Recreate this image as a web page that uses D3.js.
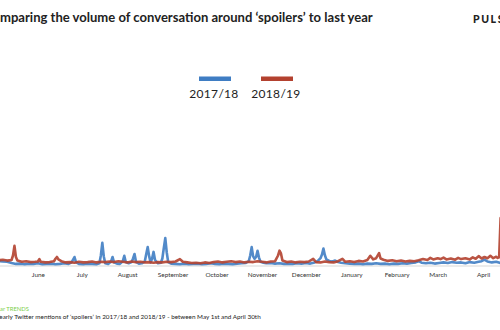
<!DOCTYPE html>
<html>
<head>
<meta charset="utf-8">
<script src="https://cdn.jsdelivr.net/npm/d3@7"></script>
<style>
  html, body { margin: 0; padding: 0; background: #fff; }
  svg { display: block; }
</style>
</head>
<body>
<svg id="chart" width="500" height="330"></svg>
<script>
// ---------- DATA ----------
const title = "Comparing the volume of conversation around ‘spoilers’ to last year";
const seriesNames = ["2017/18", "2018/19"];
const monthLabels = ["June","July","August","September","October","November","December","January","February","March","April"];
const footerBrand = "Pulsar TRENDS";
const footerNote = "Yearly Twitter mentions of ‘spoilers’ in 2017/18 and 2018/19 - between May 1st and April 30th";

// day index counted from May 1st (0 .. 364); values in thousands of mentions (est.)
const blueDays = [0,3,6,9,12,15,18,21,24,27,30,33,36,39,42,45,48,51,54,57,60,63,66,68,70,71,73,76,79,82,85,87,88,89,90,91,93,95,96,97,99,101,103,104,105,107,109,110,111,112,114,116,118,119,120,121,122,123,124,125,127,129,130,131,132,133,134,136,139,142,145,148,151,154,157,160,163,166,169,172,175,178,181,184,187,189,190,191,192,193,194,195,196,197,199,201,204,207,210,213,216,219,222,225,228,231,234,236,238,239,240,241,242,244,246,248,250,252,255,258,261,264,267,270,273,276,279,282,285,288,291,294,297,300,303,305,307,310,313,316,319,322,325,328,331,334,337,340,343,346,348,350,352,355,358,361,364];
const blueValues = [2.0,1.9,1.8,1.9,1.7,1.8,1.6,1.5,1.4,1.0,0.7,0.8,0.6,0.8,0.7,0.9,0.6,0.7,0.8,0.6,0.7,0.9,0.7,1.2,3.0,1.3,0.7,0.6,0.8,0.7,0.6,0.9,3.5,7.7,3.2,0.9,0.7,1.5,3.0,1.2,0.8,0.7,1.6,3.4,1.3,0.9,1.3,2.5,4.0,1.4,0.8,0.9,1.5,4.0,6.3,3.2,1.2,2.5,4.7,2.0,0.9,1.1,2.5,6.0,9.3,4.5,1.3,0.8,0.7,0.6,0.8,0.6,0.7,0.8,0.6,0.7,0.9,0.7,0.6,0.8,0.7,0.6,0.8,0.9,1.0,1.6,3.5,6.3,3.2,2.4,3.0,5.1,2.8,1.4,1.1,0.9,1.0,0.8,0.9,0.7,0.8,0.7,0.9,0.8,1.0,0.8,1.2,1.6,2.6,3.8,5.8,3.6,2.2,1.7,1.5,1.8,1.3,1.1,0.9,0.8,0.7,0.8,0.6,0.8,0.7,0.9,0.7,0.8,0.6,0.8,0.7,0.9,0.8,1.0,1.2,1.6,1.1,0.9,1.1,0.8,1.0,1.2,1.0,1.3,1.1,1.2,0.9,1.3,1.1,1.4,1.6,2.1,1.5,1.2,1.4,1.0,1.2];

const redDays = [0,3,6,9,12,15,18,21,24,27,28,29,30,31,34,37,40,43,45,46,47,50,53,56,57,58,59,61,64,67,70,73,76,79,82,85,88,91,94,97,100,103,106,109,112,115,118,121,124,127,130,133,136,139,142,144,147,150,153,156,159,162,165,168,171,174,177,180,183,186,189,192,195,198,201,204,207,209,210,211,212,215,218,221,224,227,230,233,235,238,241,244,247,250,253,255,258,261,264,267,270,272,274,276,278,279,281,284,287,290,293,296,299,302,305,308,311,313,315,318,320,322,324,327,330,332,334,337,340,342,344,346,348,350,352,354,356,358,359,360,361,362,364];
const redValues = [1.8,1.6,2.0,1.7,1.9,2.2,1.9,2.1,1.8,2.0,3.5,6.7,3.0,1.8,1.4,1.6,1.3,1.4,1.5,2.3,1.4,1.2,1.3,1.6,2.4,3.0,2.2,1.6,1.2,1.3,1.1,1.4,1.2,1.3,1.5,1.2,1.4,1.3,1.5,1.3,1.6,1.4,1.2,1.5,1.3,1.4,1.2,1.3,1.1,1.3,1.2,1.4,1.3,1.5,2.3,1.4,1.2,1.0,1.1,0.9,1.2,1.0,1.3,1.5,1.2,1.4,1.6,1.3,1.5,1.2,1.4,1.3,1.6,1.4,1.2,1.5,1.6,3.5,5.1,4.2,1.8,1.3,1.5,1.2,1.4,1.3,1.5,2.4,1.3,1.2,1.5,1.3,1.2,1.6,2.4,1.4,1.6,1.3,1.7,1.5,2.0,3.4,2.2,2.6,4.3,2.5,2.1,1.7,1.9,1.6,1.8,1.5,1.7,1.6,1.9,2.3,2.0,2.7,2.2,2.6,2.3,2.8,2.2,2.5,2.1,2.7,2.3,2.6,2.2,2.9,2.4,3.3,2.5,3.0,2.6,3.4,2.6,3.1,2.7,2.9,16,11,7];

// ---------- LAYOUT ----------
const svg = d3.select("#chart");
const colors = ["#3f7dc3", "#b3412f"];
const font = "Lato, 'Open Sans', sans-serif";

const x = d3.scaleLinear().domain([0, 364]).range([-28, 505]);
const y = d3.scaleLinear().domain([0, 50]).range([266, 116]);

function measure(txt, size, weight) {
  const probe = svg.append("text").attr("font-family", font).attr("font-weight", weight).attr("font-size", size).text(txt);
  const w = probe.node().getComputedTextLength();
  probe.remove();
  return w;
}
// text whose first `hiddenCount` characters fall off the left edge; visible part spans 0..visW
function croppedText(txt, hiddenCount, visW, yPos, color, weight) {
  const fs = 100 * visW / measure(txt.slice(hiddenCount), 100, weight);
  const wHidden = measure(txt.slice(0, hiddenCount), fs, weight);
  return svg.append("text").attr("x", -wHidden).attr("y", yPos)
    .attr("font-family", font).attr("font-weight", weight)
    .attr("font-size", fs).attr("fill", color).text(txt);
}

// title
croppedText(title, 2, 373, 21.5, "#222", 700);

// brand at top right (cropped)
svg.append("text")
  .attr("x", 473).attr("y", 23)
  .attr("font-family", font).attr("font-weight", 900)
  .attr("font-size", 10.5).attr("letter-spacing", 1.6).attr("fill", "#222")
  .text("PULSAR");

// legend
const legendX = [199, 261];
seriesNames.forEach((name, i) => {
  svg.append("rect")
    .attr("x", legendX[i]).attr("y", 76.5).attr("width", 32).attr("height", 4.5)
    .attr("fill", colors[i]);
  svg.append("text")
    .attr("x", legendX[i] + 15).attr("y", 97.5)
    .attr("text-anchor", "middle")
    .attr("font-family", font).attr("font-weight", 400)
    .attr("font-size", 12).attr("letter-spacing", 0.3).attr("fill", "#222")
    .text(name);
});

// x axis
const start = new Date(2018, 4, 1);
const tickDays = monthLabels.map((m, i) => d3.timeDay.count(start, new Date(2018, 5 + i, 15)));
const axis = d3.axisBottom(x).tickValues(tickDays).tickFormat((d, i) => monthLabels[i]).tickSize(0).tickPadding(6);
const gx = svg.append("g").attr("transform", "translate(0,266)").call(axis);
gx.select(".domain").attr("stroke", "#e4e4e4").attr("stroke-width", 1.5).attr("d", "M-10,0H510");
gx.selectAll("text").attr("font-family", font).attr("font-size", 6.4).attr("fill", "#333");

// lines
const line = d3.line().x(d => x(d[0])).y(d => y(d[1]));
const blue = blueDays.map((d, i) => [d, blueValues[i]]);
const red = redDays.map((d, i) => [d, redValues[i]]);
[[blue, colors[0]], [red, colors[1]]].forEach(([data, c]) => {
  svg.append("path").datum(data)
    .attr("d", line).attr("fill", "none")
    .attr("stroke", c).attr("stroke-width", 2.6)
    .attr("stroke-linejoin", "round").attr("stroke-linecap", "round")
    .attr("opacity", 0.9);
});

// footer
croppedText(footerBrand, 4, 29, 311, "#7dcf4a", 400);
croppedText(footerNote, 1, 262, 318.5, "#222", 400);
</script>
</body>
</html>
